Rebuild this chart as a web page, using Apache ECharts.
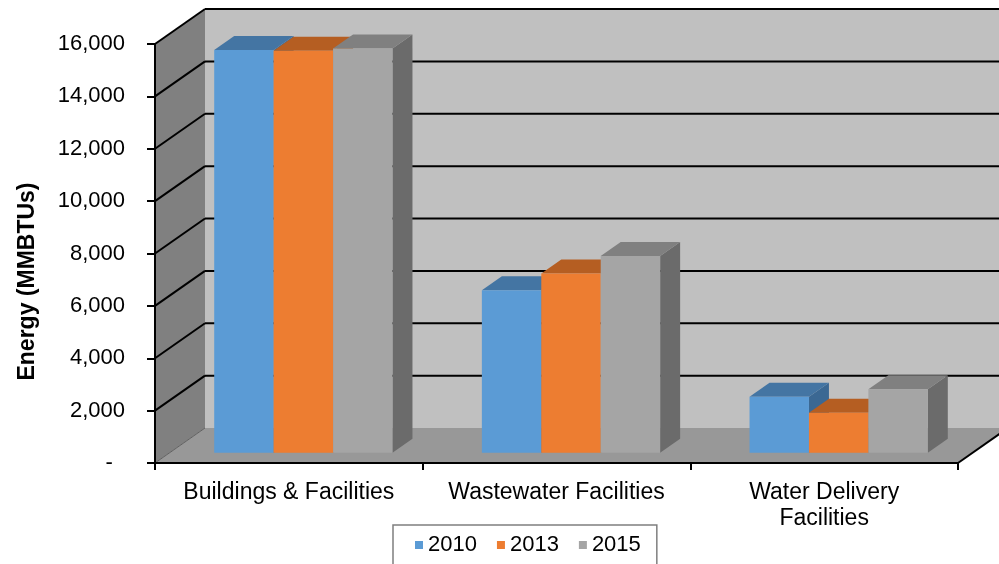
<!DOCTYPE html>
<html>
<head>
<meta charset="utf-8">
<script src="https://cdn.jsdelivr.net/npm/echarts@6/dist/echarts.min.js"></script>
<style>
  html, body { margin: 0; padding: 0; background: #fff; }
  #chart { width: 999px; height: 564px; }
</style>
</head>
<body>
<div id="chart"></div>
<script>
const categories = ['Buildings & Facilities', 'Wastewater Facilities', 'Water Delivery\nFacilities'];
const years = ['2010', '2013', '2015'];
const values2010 = [15380, 6210, 2140];
const values2013 = [15350, 6850, 1530];
const values2015 = [15440, 7520, 2430];
const yTicks = [0, 2000, 4000, 6000, 8000, 10000, 12000, 14000, 16000];

// fake 3d: depth of the box in pixels and where the bars sit inside it
const DEPTH = [50, -35];
const BAR_FRONT = 0.29;
const BAR_DEPTH = 0.4;
const BAR_WIDTH = 0.222; // part of the category band

const FONT = "'Liberation Sans', Arial, sans-serif";

const faceColors = [
  { front: '#5b9bd5', top: '#4475a3', side: '#3b6893' },
  { front: '#ed7d31', top: '#b55e22', side: '#a3541e' },
  { front: '#a5a5a5', top: '#808080', side: '#6b6b6b' }
];

function renderFrame(params, api) {
  const bw = api.size([1, 0])[0];
  const left = api.coord([0, 0])[0] - bw / 2;
  const right = api.coord([categories.length - 1, 0])[0] + bw / 2;
  const y0 = api.coord([0, 0])[1];
  const yMax = api.coord([0, yTicks[yTicks.length - 1]])[1];
  const dx = DEPTH[0];
  const dy = DEPTH[1];
  const children = [];
  // back wall
  children.push({
    type: 'rect',
    shape: { x: left + dx, y: yMax + dy, width: right - left, height: y0 - yMax },
    style: { fill: '#c0c0c0' }
  });
  // left wall
  children.push({
    type: 'polygon',
    shape: { points: [[left, y0], [left, yMax], [left + dx, yMax + dy], [left + dx, y0 + dy]] },
    style: { fill: '#808080' }
  });
  // gridlines on both walls
  yTicks.forEach(function (v) {
    if (v === 0) return;
    const y = api.coord([0, v])[1];
    children.push({
      type: 'line',
      shape: { x1: left + dx, y1: y + dy, x2: right + dx, y2: y + dy },
      style: { stroke: '#000', lineWidth: 2 }
    });
    children.push({
      type: 'line',
      shape: { x1: left, y1: y, x2: left + dx, y2: y + dy },
      style: { stroke: '#000', lineWidth: 2 }
    });
  });
  // floor
  children.push({
    type: 'polygon',
    shape: { points: [[left, y0], [right, y0], [right + dx, y0 + dy], [left + dx, y0 + dy]] },
    style: { fill: '#989898' }
  });
  children.push({
    type: 'line',
    shape: { x1: left, y1: y0, x2: left + dx, y2: y0 + dy },
    style: { stroke: '#606060', lineWidth: 1 }
  });
  children.push({
    type: 'line',
    shape: { x1: right, y1: y0, x2: right + dx, y2: y0 + dy },
    style: { stroke: '#000', lineWidth: 2 }
  });
  return { type: 'group', children: children };
}

function makeBarRenderer(k) {
  return function (params, api) {
    const cat = api.value(0);
    const base = api.coord([cat, 0]);
    const top = api.coord([cat, api.value(1)]);
    const w = api.size([1, 0])[0] * BAR_WIDTH;
    const ox = DEPTH[0] * BAR_FRONT;
    const oy = DEPTH[1] * BAR_FRONT;
    const px = DEPTH[0] * BAR_DEPTH;
    const py = DEPTH[1] * BAR_DEPTH;
    const x1 = base[0] + (k - 1.5) * w + ox;
    const x2 = x1 + w;
    const yb = base[1] + oy;
    const yt = top[1] + oy;
    const c = faceColors[k];
    return {
      type: 'group',
      children: [
        { type: 'polygon', shape: { points: [[x2, yt], [x2 + px, yt + py], [x2 + px, yb + py], [x2, yb]] }, style: { fill: c.side } },
        { type: 'polygon', shape: { points: [[x1, yt], [x2, yt], [x2 + px, yt + py], [x1 + px, yt + py]] }, style: { fill: c.top } },
        { type: 'rect', shape: { x: x1, y: yt, width: w, height: yb - yt }, style: { fill: api.visual('color') } }
      ]
    };
  };
}

function toPairs(values) {
  return values.map(function (v, i) { return [i, v]; });
}

const yearValues = [values2010, values2013, values2015];

const barSeries = years.map(function (y, k) {
  return {
    name: y,
    type: 'custom',
    z: 3,
    silent: true,
    itemStyle: { color: faceColors[k].front },
    renderItem: makeBarRenderer(k),
    encode: { x: 0, y: 1 },
    data: toPairs(yearValues[k])
  };
});

const chart = echarts.init(document.getElementById('chart'));
chart.setOption({
  animation: false,
  backgroundColor: '#fff',
  textStyle: { fontFamily: FONT },
  grid: { left: 155, right: 41, top: 44, bottom: 101 },
  legend: {
    data: years,
    left: 393,
    top: 525,
    padding: [9, 16, 9, 22],
    borderColor: '#7f7f7f',
    borderWidth: 1.5,
    icon: 'rect',
    itemWidth: 8,
    itemHeight: 8,
    itemGap: 20,
    textStyle: { fontSize: 22, color: '#000', fontFamily: FONT }
  },
  xAxis: {
    type: 'category',
    data: categories,
    z: 5,
    axisLine: { lineStyle: { color: '#000', width: 2 } },
    axisTick: { show: true, length: 7, lineStyle: { color: '#000', width: 2 } },
    axisLabel: { fontSize: 23, lineHeight: 26, color: '#000', margin: 17, fontFamily: FONT, interval: 0 }
  },
  yAxis: {
    type: 'value',
    min: 0,
    max: 16000,
    interval: 2000,
    z: 5,
    name: 'Energy (MMBTUs)',
    nameLocation: 'middle',
    nameRotate: 90,
    nameGap: 116,
    nameTextStyle: { fontSize: 23, fontWeight: 'bold', color: '#000', fontFamily: FONT, padding: [0, 56, 0, 0] },
    axisLine: { show: true, lineStyle: { color: '#000', width: 2 } },
    axisTick: { show: true, length: 8, lineStyle: { color: '#000', width: 2 } },
    splitLine: { show: false },
    axisLabel: {
      fontSize: 22,
      color: '#000',
      margin: 30,
      fontFamily: FONT,
      formatter: function (v) {
        if (v === 0) return '-  ';
        return String(v).replace(/\B(?=(\d{3})+(?!\d))/g, ',');
      }
    }
  },
  series: [{
    name: 'frame',
    type: 'custom',
    z: 1,
    silent: true,
    renderItem: renderFrame,
    encode: { x: 0, y: 1 },
    data: [[0, 0]]
  }].concat(barSeries)
});
</script>
</body>
</html>
